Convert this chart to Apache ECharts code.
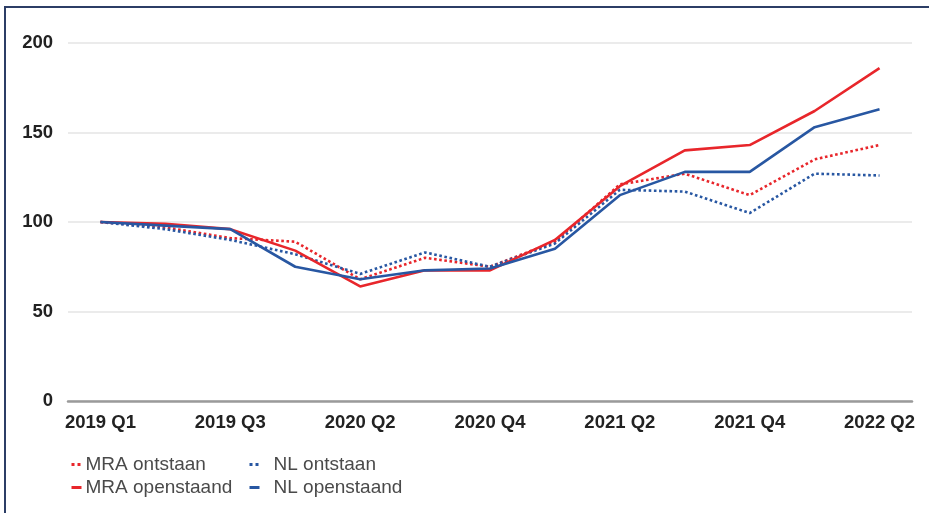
<!DOCTYPE html>
<html>
<head>
<meta charset="utf-8">
<script src="https://cdn.jsdelivr.net/npm/echarts@6/dist/echarts.min.js"></script>
<style>
html,body{margin:0;padding:0;background:#fff;}
#c{width:929px;height:513px;}
</style>
</head>
<body>
<div id="c"></div>
<script>
const categories = ['2019 Q1','2019 Q2','2019 Q3','2020 Q1','2020 Q2','2020 Q3','2020 Q4','2021 Q1','2021 Q2','2021 Q3','2021 Q4','2022 Q1','2022 Q2'];
const mraOntstaan   = [100, 97, 91, 89, 68, 80, 75, 89, 121, 127, 115, 135, 143];
const mraOpenstaand = [100, 99, 96, 84, 64, 73, 73, 90, 120, 140, 143, 162, 186];
const nlOntstaan    = [100, 96, 90, 82, 71, 83, 75, 88, 118, 117, 105, 127, 126];
const nlOpenstaand  = [100, 98, 96, 75, 68, 73, 74, 85, 115, 128, 128, 153, 163];
const yTicks = [0, 50, 100, 150, 200];

const RED = '#e8262b';
const BLUE = '#2857a2';
const FONT = '"Liberation Sans", Arial, sans-serif';

const chart = echarts.init(document.getElementById('c'));
function line(name, data, color, type) {
  return {
    name, type: 'line', data, symbol: 'none', smooth: false,
    lineStyle: { color, width: 2.6, type },
    itemStyle: { color },
    z: type === 'solid' ? 3 : 2
  };
}
const legendCommon = {
  orient: 'vertical', top: 455, padding: 0,
  itemWidth: 10, itemHeight: 8, itemGap: 4,
  itemStyle: { opacity: 0 },
  lineStyle: { width: 3 }
};
chart.setOption({
  animation: false,
  textStyle: { fontFamily: FONT },
  grid: { left: 68, right: 17, top: 43, bottom: 112, containLabel: false },
  graphic: [{
    type: 'rect', silent: true, z: 100,
    shape: { x: 5, y: 7, width: 930, height: 520 },
    style: { fill: 'none', stroke: '#2c3e66', lineWidth: 2 }
  }],
  legend: [Object.assign({}, legendCommon, {
    data: ['MRA ontstaan', 'MRA openstaand'],
    left: 70,
    textStyle: { fontFamily: FONT, fontSize: 19, color: '#4a4a4a', lineHeight: 19, padding: [0,0,0,-1] }
  }), Object.assign({}, legendCommon, {
    data: ['NL ontstaan', 'NL openstaand'],
    left: 248,
    textStyle: { fontFamily: FONT, fontSize: 19, color: '#4a4a4a', lineHeight: 19, padding: [0,0,0,9] }
  })],
  xAxis: {
    type: 'category', data: categories, boundaryGap: true,
    axisLine: { lineStyle: { color: '#9a9a9a', width: 2.5 } },
    axisTick: { show: false },
    axisLabel: { interval: 1, margin: 12, fontFamily: FONT, fontSize: 18.5, fontWeight: 'bold', color: '#222' }
  },
  yAxis: {
    type: 'value', min: yTicks[0], max: yTicks[yTicks.length - 1], interval: 50,
    axisLine: { show: false }, axisTick: { show: false },
    axisLabel: { margin: 15, fontFamily: FONT, fontSize: 18.5, fontWeight: 'bold', color: '#222' },
    splitLine: { lineStyle: { color: '#e4e4e4', width: 1.5 } }
  },
  series: [
    line('MRA ontstaan', mraOntstaan, RED, 'dotted'),
    line('MRA openstaand', mraOpenstaand, RED, 'solid'),
    line('NL ontstaan', nlOntstaan, BLUE, 'dotted'),
    line('NL openstaand', nlOpenstaand, BLUE, 'solid')
  ]
});
</script>
</body>
</html>
